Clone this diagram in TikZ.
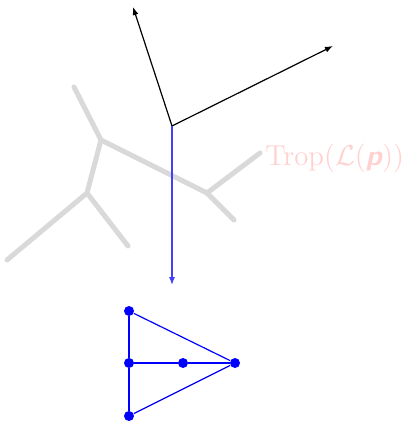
\documentclass[tikz,border=0pt]{standalone}
\usepackage{amsmath,amssymb}
\usepackage{xcolor}
\usetikzlibrary{arrows.meta}

\begin{document}
\begin{tikzpicture}[
  x=0.5pt, y=-0.5pt,
  trop/.style={draw=gray!30, line width=2.5pt, line cap=round},
  vec/.style={-{Latex[length=4pt,width=3pt]}, line width=0.6pt},
  proj/.style={-{Latex[length=4pt,width=3pt]}, line width=0.6pt, blue!75},
  dot/.style={circle, fill=blue, inner sep=0pt, minimum size=5pt},
  edge/.style={draw=blue, line width=0.6pt}
]
  \useasboundingbox (0,0) rectangle (406,422);

  % tropical curve
  \coordinate (ta) at (101,140);
  \coordinate (tb) at (87,193);
  \coordinate (tc) at (207,193);
  \draw[trop] (74,87) -- (ta) -- (tc) -- (260,153);
  \draw[trop] (tc) -- (234,220);
  \draw[trop] (ta) -- (tb) -- (7,260);
  \draw[trop] (tb) -- (128,246);
  \node[anchor=base west, inner sep=0pt, text=red!18, font=\Large]
    (lbl) at (265,166) {$\mathrm{Trop}(\mathcal{L}(\text{\sffamily\bfseries\slshape p}))$};

  % basis vectors
  \coordinate (o) at (172,126);
  \coordinate (e1) at (133,7);
  \coordinate (e2) at (333,46);
  \coordinate (down) at (172,285);
  \draw[vec] (o) -- (e1);
  \draw[vec] (o) -- (e2);
  \draw[proj] (o) -- (down);

  % graph
  \node[dot] (v1) at (129,311) {};
  \node[dot] (v2) at (129,363) {};
  \node[dot] (v3) at (183,363) {};
  \node[dot] (v4) at (235,363) {};
  \node[dot] (v5) at (129,416) {};
  \draw[edge] (v1) -- (v2) -- (v5);
  \draw[edge] (v2) -- (v3) -- (v4);
  \draw[edge] (v1) -- (v4);
  \draw[edge] (v5) -- (v4);
\end{tikzpicture}
\end{document}
